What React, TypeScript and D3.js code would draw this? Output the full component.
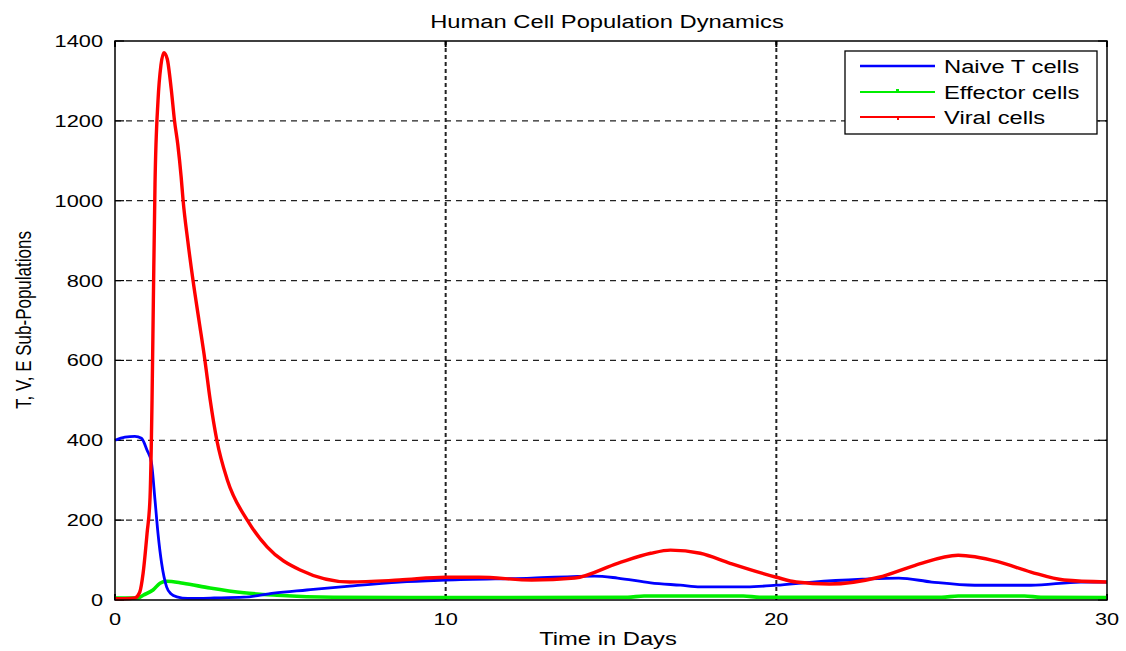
import React, { useEffect, useRef } from 'react';
import * as d3 from 'd3';

const naiveDays = [0, 0.3, 0.6, 0.8, 0.97, 1.1, 1.21, 1.3, 1.41, 1.56, 1.7, 1.87, 2.2, 3, 3.9, 4.8, 5.8, 7.1, 8.6, 10, 12.6, 14.5, 15.2, 16.2, 17.1, 17.7, 19.1, 20, 21.1, 22.6, 23.7, 24.7, 26, 27.7, 29.2, 30];
const naiveValues = [400, 408, 410, 405, 375, 345, 250, 167, 92, 33, 15, 8, 4, 5, 7, 17, 25, 35, 45, 50, 55, 60, 55, 43, 37, 33, 33, 37, 45, 52, 55, 45, 37, 37, 45, 45];

const effectorDays = [0, 0.7, 0.85, 1.15, 1.36, 1.56, 2.06, 2.87, 3.9, 4.9, 6.6, 10, 15.5, 16, 19, 19.5, 25, 25.5, 27.5, 28, 30];
const effectorValues = [5, 5, 12, 25, 42, 47, 42, 30, 18, 12, 7, 6, 7, 10, 10, 7, 7, 10, 10, 7, 6];

const viralDays = [0, 0.3, 0.6, 0.75, 0.85, 0.97, 1.06, 1.12, 1.16, 1.21, 1.3, 1.39, 1.48, 1.58, 1.7, 1.8, 1.9, 2.0, 2.06, 2.2, 2.36, 2.54, 2.72, 2.88, 3.08, 3.4, 4.0, 4.6, 5.6, 7.1, 8.6, 10, 11, 12.6, 13.9, 15.2, 16.2, 16.8, 17.7, 18.6, 20, 20.6, 21.6, 23.1, 24.2, 25.5, 26.7, 27.7, 28.7, 30];
const viralValues = [3, 3, 5, 20, 67, 167, 257, 500, 750, 1042, 1250, 1340, 1371, 1355, 1280, 1200, 1140, 1060, 1000, 900, 800, 700, 600, 500, 400, 300, 200, 133, 75, 45, 50, 57, 57, 50, 55, 92, 117, 125, 117, 92, 57, 45, 40, 57, 87, 112, 96, 70, 50, 45];

const xTicks = [0, 10, 20, 30];
const yTicks = [0, 200, 400, 600, 800, 1000, 1200, 1400];
const seriesNames = ['Naive T cells', 'Effector cells', 'Viral cells'];
const seriesColors = ['#0000ff', '#00ee00', '#ff0000'];

const W = 1126;
const H = 651;
const SX = 1.32; // the picture is stretched sideways

const App = () => {
  const ref = useRef<SVGSVGElement>(null);

  useEffect(() => {
    const svg = d3.select(ref.current);
    svg.selectAll('*').remove();

    const left = 115, right = 1107, top = 41, bottom = 600;
    const x = d3.scaleLinear().domain([0, 30]).range([left, right]);
    const y = d3.scaleLinear().domain([0, 1400]).range([bottom, top]);

    svg.append('rect').attr('width', W).attr('height', H).attr('fill', '#fff');

    const txt = (s: string, tx: number, ty: number, size: number, anchor: string, extra = '') =>
      svg
        .append('text')
        .attr('transform', `translate(${tx},${ty}) scale(${SX},1)${extra}`)
        .attr('text-anchor', anchor)
        .style('font-family', 'Arial, "Liberation Sans", sans-serif')
        .style('font-size', size + 'px')
        .attr('fill', '#000')
        .text(s);

    // grid
    svg
      .selectAll('.hgrid')
      .data(yTicks.slice(1, -1))
      .enter()
      .append('line')
      .attr('x1', left)
      .attr('x2', right)
      .attr('y1', (d) => y(d))
      .attr('y2', (d) => y(d))
      .attr('stroke', '#222')
      .attr('stroke-width', 1.2)
      .attr('stroke-dasharray', '6 5');
    svg
      .selectAll('.vgrid')
      .data(xTicks.slice(1, -1))
      .enter()
      .append('line')
      .attr('x1', (d) => x(d))
      .attr('x2', (d) => x(d))
      .attr('y1', top)
      .attr('y2', bottom)
      .attr('stroke', '#222')
      .attr('stroke-width', 2)
      .attr('stroke-dasharray', '4 3');

    // ticks inside
    yTicks.forEach((d) => {
      svg.append('line').attr('x1', left).attr('x2', left + 9).attr('y1', y(d)).attr('y2', y(d)).attr('stroke', '#000').attr('stroke-width', 1.2);
      svg.append('line').attr('x1', right - 9).attr('x2', right).attr('y1', y(d)).attr('y2', y(d)).attr('stroke', '#000').attr('stroke-width', 1.2);
      txt(String(d), left - 12, y(d) + 6, 16.5, 'end');
    });
    xTicks.forEach((d) => {
      svg.append('line').attr('x1', x(d)).attr('x2', x(d)).attr('y1', bottom).attr('y2', bottom - 6).attr('stroke', '#000').attr('stroke-width', 2);
      svg.append('line').attr('x1', x(d)).attr('x2', x(d)).attr('y1', top).attr('y2', top + 6).attr('stroke', '#000').attr('stroke-width', 2);
      txt(String(d), x(d), 625, 16.5, 'middle');
    });

    const line = d3
      .line<[number, number]>()
      .x((d) => x(d[0]))
      .y((d) => y(d[1]))
      .curve(d3.curveMonotoneX);

    const series: [number[], number[], number][] = [
      [naiveDays, naiveValues, 2.8],
      [effectorDays, effectorValues, 3.6],
      [viralDays, viralValues, 3.4],
    ];
    // draw green first so blue/red sit over it
    [1, 0, 2].forEach((i) => {
      const [days, vals, w] = series[i];
      svg
        .append('path')
        .datum(days.map((t, k) => [t, vals[k]] as [number, number]))
        .attr('d', line)
        .attr('fill', 'none')
        .attr('stroke', seriesColors[i])
        .attr('stroke-width', w)
        .attr('stroke-linejoin', 'round');
    });

    // frame
    svg
      .append('rect')
      .attr('x', left)
      .attr('y', top)
      .attr('width', right - left)
      .attr('height', bottom - top)
      .attr('fill', 'none')
      .attr('stroke', '#000')
      .attr('stroke-width', 1.5);

    // legend
    const lg = svg.append('g');
    lg.append('rect')
      .attr('x', 845)
      .attr('y', 51)
      .attr('width', 252)
      .attr('height', 83)
      .attr('fill', '#fff')
      .attr('stroke', '#000')
      .attr('stroke-width', 1.3);
    const rows = [66, 92, 117];
    seriesNames.forEach((name, i) => {
      lg.append('line')
        .attr('x1', 860)
        .attr('x2', 935)
        .attr('y1', rows[i])
        .attr('y2', rows[i])
        .attr('stroke', seriesColors[i])
        .attr('stroke-width', i === 0 ? 2.6 : 2.2);
      if (i === 1) lg.append('rect').attr('x', 896).attr('y', rows[i] - 3).attr('width', 3).attr('height', 3).attr('fill', seriesColors[i]);
      if (i === 2) lg.append('rect').attr('x', 897).attr('y', rows[i]).attr('width', 2).attr('height', 3).attr('fill', seriesColors[i]);
      txt(name, 944, rows[i] + 7, 18, 'start');
    });

    // titles
    txt('Human Cell Population Dynamics', 607, 28, 18, 'middle');
    txt('Time in Days', 608, 645, 18, 'middle');
    txt('T, V, E Sub-Populations', 31, 320, 17, 'middle', ' rotate(-90)');
  }, []);

  return <svg ref={ref} width={W} height={H} style={{ position: 'absolute', left: 0, top: 0 }} />;
};

export default App;
